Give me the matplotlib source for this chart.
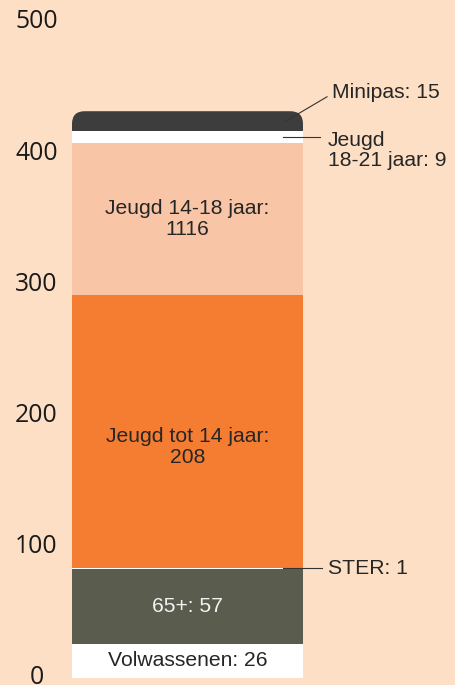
import numpy as np
import matplotlib
matplotlib.use('Agg')
import matplotlib.pyplot as plt
from matplotlib.patches import FancyBboxPatch
from matplotlib.transforms import ScaledTranslation

# stacked segments, bottom to top
segments = ['Volwassenen', '65+', 'STER', 'Jeugd tot 14 jaar', 'Jeugd 14-18 jaar', 'Jeugd 18-21 jaar', 'Minipas']
values = [26, 57, 1, 208, 116, 9, 15]
labels = ['Volwassenen: 26', '65+: 57', 'STER: 1', 'Jeugd tot 14 jaar:\n208',
          'Jeugd 14-18 jaar:\n1116', 'Jeugd\n18-21 jaar: 9', 'Minipas: 15']
colors = ['#ffffff', '#5a5d4e', '#ffffff', '#f57d32', '#f9c5a7', '#ffffff', '#3d3d3d']
yticks = [0, 100, 200, 300, 400, 500]

bg = '#fddfc6'
txt = '#262626'
fs = 15.2

fig = plt.figure(figsize=(4.56, 6.85), dpi=100, facecolor=bg)
ax = fig.add_axes([72 / 456, 7 / 685, 231 / 456, 656 / 685])
ax.set_facecolor(bg)
ax.patch.set_alpha(0)

bottoms = np.concatenate([[0], np.cumsum(values)[:-1]])
bars = ax.bar([0] * len(values), values, bottom=bottoms, width=1.0, color=colors, linewidth=0)

# round the top corners of the top segment
top = bars[-1]
x0, y0 = top.get_xy()
w, h = top.get_width(), top.get_height()
ext = values[-2]
top.remove()
rounded = FancyBboxPatch((x0, y0 - ext), w, h + ext, boxstyle='round,pad=0,rounding_size=0.055',
                         mutation_aspect=176, facecolor=colors[-1], linewidth=0, zorder=1)
ax.add_patch(rounded)
bars[-2].set_zorder(2)

ax.set_xlim(-0.5, 0.5)
ax.set_ylim(0, 500)
for s in ax.spines.values():
    s.set_visible(False)
ax.set_xticks([])
ax.set_yticks(yticks)
ax.tick_params(axis='y', length=0, pad=25.6, labelsize=17.8, labelcolor='#1a1a1a')
up = ScaledTranslation(0, 3 / 100, fig.dpi_scale_trans)
for lab in ax.get_yticklabels():
    lab.set_fontfamily('Open Sans')
    lab.set_horizontalalignment('center')
    lab.set_transform(lab.get_transform() + up)

mids = bottoms + np.array(values) / 2
inside = {0: (txt, 0), 1: ('#f2f2f2', 0), 3: (txt, -12), 4: (txt, 0)}
for i, (c, off) in inside.items():
    ax.text(0, mids[i] + off, labels[i], ha='center', va='center', fontsize=fs,
            family='Liberation Sans', color=c, linespacing=1.1)

# leader lines for thin segments
lc = '#333333'
ax.plot([0.426, 0.604], [mids[6], 443], color=lc, lw=0.8, clip_on=False, zorder=3)
ax.text(0.626, 446, labels[6], ha='left', va='center', fontsize=fs, family='Liberation Sans',
        color=txt, clip_on=False)
ax.plot([0.413, 0.574], [mids[5], mids[5]], color=lc, lw=0.8, clip_on=False, zorder=3)
ax.text(0.608, 402, labels[5], ha='left', va='center', fontsize=fs, family='Liberation Sans',
        color=txt, clip_on=False, linespacing=1.1)
ax.plot([0.413, 0.584], [mids[2], mids[2]], color=lc, lw=0.8, clip_on=False, zorder=3)
ax.text(0.608, mids[2], labels[2], ha='left', va='center', fontsize=fs, family='Liberation Sans',
        color=txt, clip_on=False)

fig.savefig('out.png', dpi=100, facecolor=bg)
